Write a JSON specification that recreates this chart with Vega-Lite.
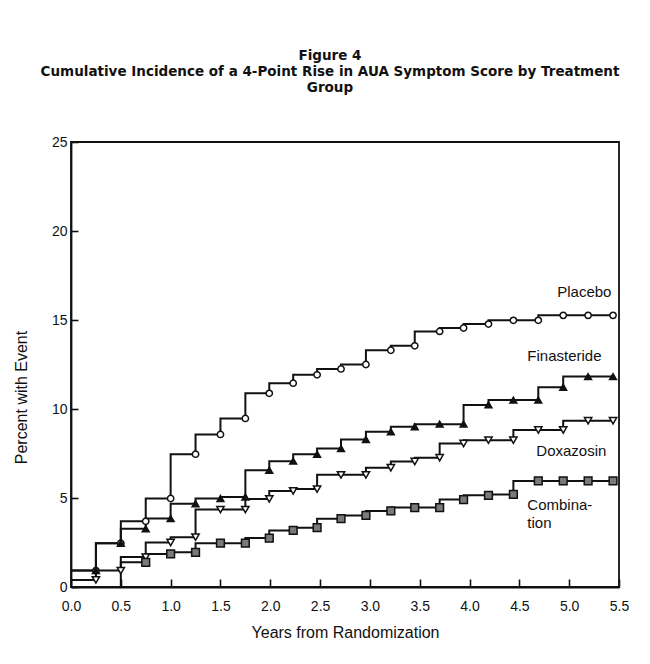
{
  "$schema": "https://vega.github.io/schema/vega-lite/v6.json",
  "width": 548,
  "height": 445,
  "autosize": {"type": "none"},
  "padding": {"left": 71, "top": 142, "right": 31, "bottom": 77},
  "background": "white",
  "title": {
    "text": ["Figure 4", "Cumulative Incidence of a 4-Point Rise in AUA Symptom Score by Treatment", "Group"],
    "font": "DejaVu Sans",
    "fontSize": 13.5,
    "fontWeight": "bold",
    "lineHeight": 16,
    "color": "#111",
    "anchor": "middle",
    "offset": 41,
    "dx": -15
  },
  "config": {
    "font": "Liberation Sans",
    "view": {"stroke": "#111", "strokeWidth": 1.8},
    "axis": {
      "domainColor": "#111",
      "domainWidth": 1.8,
      "tickColor": "#111",
      "tickWidth": 1.6,
      "grid": false,
      "labelFont": "Liberation Sans",
      "labelFontSize": 14,
      "labelColor": "#111",
      "titleFont": "Liberation Sans",
      "titleFontSize": 16,
      "titleFontWeight": "normal",
      "titleColor": "#111"
    }
  },
  "datasets": {
    "curves": [
      {"series": "Placebo", "t": 0, "v": 0.92}, {"series": "Placebo", "t": 0.25, "v": 0.92}, {"series": "Placebo", "t": 0.5, "v": 2.46}, {"series": "Placebo", "t": 0.75, "v": 3.69}, {"series": "Placebo", "t": 1.0, "v": 4.97}, {"series": "Placebo", "t": 1.25, "v": 7.46}, {"series": "Placebo", "t": 1.5, "v": 8.57}, {"series": "Placebo", "t": 1.75, "v": 9.47}, {"series": "Placebo", "t": 1.99, "v": 10.88}, {"series": "Placebo", "t": 2.23, "v": 11.45}, {"series": "Placebo", "t": 2.47, "v": 11.92}, {"series": "Placebo", "t": 2.71, "v": 12.25}, {"series": "Placebo", "t": 2.96, "v": 12.5}, {"series": "Placebo", "t": 3.21, "v": 13.3}, {"series": "Placebo", "t": 3.45, "v": 13.55}, {"series": "Placebo", "t": 3.7, "v": 14.36}, {"series": "Placebo", "t": 3.94, "v": 14.55}, {"series": "Placebo", "t": 4.19, "v": 14.77}, {"series": "Placebo", "t": 4.44, "v": 14.98}, {"series": "Placebo", "t": 4.69, "v": 14.98}, {"series": "Placebo", "t": 4.94, "v": 15.26}, {"series": "Placebo", "t": 5.19, "v": 15.26}, {"series": "Placebo", "t": 5.44, "v": 15.26},
      {"series": "Finasteride", "t": 0, "v": 0.92}, {"series": "Finasteride", "t": 0.25, "v": 0.92}, {"series": "Finasteride", "t": 0.5, "v": 2.46}, {"series": "Finasteride", "t": 0.75, "v": 3.27}, {"series": "Finasteride", "t": 1.0, "v": 3.85}, {"series": "Finasteride", "t": 1.25, "v": 4.68}, {"series": "Finasteride", "t": 1.5, "v": 4.97}, {"series": "Finasteride", "t": 1.75, "v": 5.06}, {"series": "Finasteride", "t": 1.99, "v": 6.56}, {"series": "Finasteride", "t": 2.23, "v": 7.07}, {"series": "Finasteride", "t": 2.47, "v": 7.46}, {"series": "Finasteride", "t": 2.71, "v": 7.78}, {"series": "Finasteride", "t": 2.96, "v": 8.29}, {"series": "Finasteride", "t": 3.21, "v": 8.72}, {"series": "Finasteride", "t": 3.45, "v": 9.0}, {"series": "Finasteride", "t": 3.7, "v": 9.15}, {"series": "Finasteride", "t": 3.94, "v": 9.15}, {"series": "Finasteride", "t": 4.19, "v": 10.23}, {"series": "Finasteride", "t": 4.44, "v": 10.5}, {"series": "Finasteride", "t": 4.69, "v": 10.5}, {"series": "Finasteride", "t": 4.94, "v": 11.22}, {"series": "Finasteride", "t": 5.19, "v": 11.82}, {"series": "Finasteride", "t": 5.44, "v": 11.82},
      {"series": "Doxazosin", "t": 0, "v": 0.4}, {"series": "Doxazosin", "t": 0.25, "v": 0.4}, {"series": "Doxazosin", "t": 0.5, "v": 0.92}, {"series": "Doxazosin", "t": 0.75, "v": 1.68}, {"series": "Doxazosin", "t": 1.0, "v": 2.5}, {"series": "Doxazosin", "t": 1.25, "v": 2.8}, {"series": "Doxazosin", "t": 1.5, "v": 4.35}, {"series": "Doxazosin", "t": 1.75, "v": 4.35}, {"series": "Doxazosin", "t": 1.99, "v": 4.95}, {"series": "Doxazosin", "t": 2.23, "v": 5.4}, {"series": "Doxazosin", "t": 2.47, "v": 5.5}, {"series": "Doxazosin", "t": 2.71, "v": 6.3}, {"series": "Doxazosin", "t": 2.96, "v": 6.3}, {"series": "Doxazosin", "t": 3.21, "v": 6.7}, {"series": "Doxazosin", "t": 3.45, "v": 7.05}, {"series": "Doxazosin", "t": 3.7, "v": 7.26}, {"series": "Doxazosin", "t": 3.94, "v": 8.06}, {"series": "Doxazosin", "t": 4.19, "v": 8.25}, {"series": "Doxazosin", "t": 4.44, "v": 8.25}, {"series": "Doxazosin", "t": 4.69, "v": 8.82}, {"series": "Doxazosin", "t": 4.94, "v": 8.82}, {"series": "Doxazosin", "t": 5.19, "v": 9.34}, {"series": "Doxazosin", "t": 5.44, "v": 9.34},
      {"series": "Combination", "t": 0, "v": 0}, {"series": "Combination", "t": 0.25, "v": 0}, {"series": "Combination", "t": 0.5, "v": 0}, {"series": "Combination", "t": 0.75, "v": 1.39}, {"series": "Combination", "t": 1.0, "v": 1.86}, {"series": "Combination", "t": 1.25, "v": 1.95}, {"series": "Combination", "t": 1.5, "v": 2.46}, {"series": "Combination", "t": 1.75, "v": 2.46}, {"series": "Combination", "t": 1.99, "v": 2.75}, {"series": "Combination", "t": 2.23, "v": 3.18}, {"series": "Combination", "t": 2.47, "v": 3.33}, {"series": "Combination", "t": 2.71, "v": 3.84}, {"series": "Combination", "t": 2.96, "v": 4.02}, {"series": "Combination", "t": 3.21, "v": 4.27}, {"series": "Combination", "t": 3.45, "v": 4.46}, {"series": "Combination", "t": 3.7, "v": 4.46}, {"series": "Combination", "t": 3.94, "v": 4.91}, {"series": "Combination", "t": 4.19, "v": 5.15}, {"series": "Combination", "t": 4.44, "v": 5.2}, {"series": "Combination", "t": 4.69, "v": 5.96}, {"series": "Combination", "t": 4.94, "v": 5.96}, {"series": "Combination", "t": 5.19, "v": 5.96}, {"series": "Combination", "t": 5.44, "v": 5.96}
    ],
    "labels": [
      {"label": "Placebo", "t": 4.88, "v": 16.29},
      {"label": "Finasteride", "t": 4.58, "v": 12.7},
      {"label": "Doxazosin", "t": 4.67, "v": 7.36},
      {"label": "Combina-", "t": 4.58, "v": 4.33},
      {"label": "tion", "t": 4.58, "v": 3.31}
    ]
  },
  "layer": [
    {
      "data": {"name": "curves"},
      "mark": {"type": "line", "interpolate": "step-before", "color": "#111", "strokeWidth": 2},
      "encoding": {
        "x": {
          "field": "t", "type": "quantitative",
          "scale": {"domain": [0, 5.5], "nice": false, "zero": true},
          "axis": {
            "title": "Years from Randomization",
            "values": [0, 0.5, 1, 1.5, 2, 2.5, 3, 3.5, 4, 4.5, 5, 5.5],
            "format": ".1f",
            "tickSize": -8,
            "labelPadding": 20,
            "titlePadding": 11,
            "labelFlush": false
          }
        },
        "y": {
          "field": "v", "type": "quantitative",
          "scale": {"domain": [0, 25], "nice": false},
          "axis": {
            "title": "Percent with Event",
            "values": [0, 5, 10, 15, 20, 25],
            "tickSize": -7,
            "labelPadding": 11,
            "labelFlush": false,
            "titleX": -42,
            "titleY": 255
          }
        },
        "detail": {"field": "series"}
      }
    },
    {
      "data": {"name": "curves"},
      "transform": [{"filter": "datum.t > 0 && datum.v > 0"}],
      "mark": {"type": "point", "filled": false, "stroke": "#111", "strokeWidth": 1.5, "opacity": 1},
      "encoding": {
        "x": {"field": "t", "type": "quantitative"},
        "y": {"field": "v", "type": "quantitative"},
        "shape": {
          "field": "series", "type": "nominal",
          "scale": {"domain": ["Placebo", "Finasteride", "Doxazosin", "Combination"], "range": ["circle", "triangle-up", "triangle-down", "square"]},
          "legend": null
        },
        "fill": {
          "field": "series", "type": "nominal",
          "scale": {"domain": ["Placebo", "Finasteride", "Doxazosin", "Combination"], "range": ["#ffffff", "#111111", "#ffffff", "#7a7a7a"]},
          "legend": null
        },
        "size": {
          "field": "series", "type": "nominal",
          "scale": {"domain": ["Placebo", "Finasteride", "Doxazosin", "Combination"], "range": [40, 60, 60, 55]},
          "legend": null
        }
      }
    },
    {
      "data": {"name": "labels"},
      "mark": {"type": "text", "align": "left", "baseline": "alphabetic", "font": "Liberation Sans", "fontSize": 15, "color": "#111"},
      "encoding": {
        "x": {"field": "t", "type": "quantitative"},
        "y": {"field": "v", "type": "quantitative"},
        "text": {"field": "label"}
      }
    }
  ]
}
